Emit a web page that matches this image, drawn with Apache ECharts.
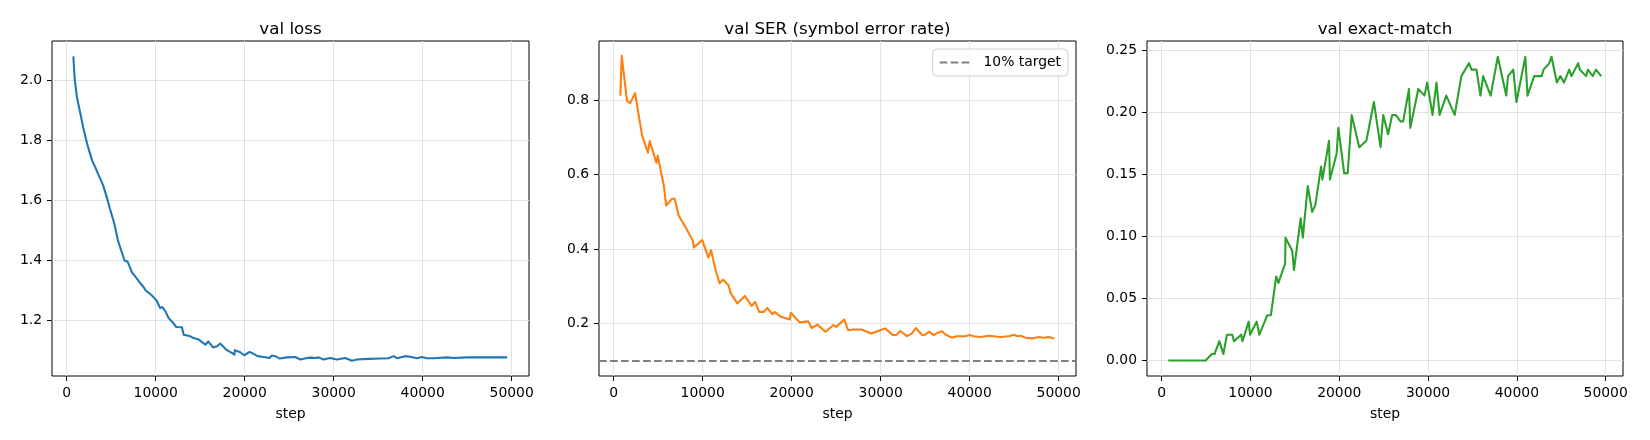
<!DOCTYPE html>
<html>
<head>
<meta charset="utf-8">
<script src="https://cdn.jsdelivr.net/npm/echarts@6/dist/echarts.min.js"></script>
<style>
html,body{margin:0;padding:0;background:#fff;}
#chart{width:1650px;height:440px;}
</style>
</head>
<body>
<div id="chart"></div>
<script>
// ---- data ----
var xTicks = [0, 10000, 20000, 30000, 40000, 50000];
var lossTicks = [1.2, 1.4, 1.6, 1.8, 2.0];
var serTicks = [0.2, 0.4, 0.6, 0.8];
var emTicks = [0.00, 0.05, 0.10, 0.15, 0.20, 0.25];
var targetLevel = [0.1];

var lossSteps = [750,900,1150,1550,1850,2300,2850,3200,3600,4100,4550,4850,5000,5350,5750,6050,6500,6850,7350,7700,8200,8650,8900,9050,9500,9850,10100,10500,10750,11100,11450,11900,12300,12950,13150,13900,14250,14850,15600,15900,16450,16900,17250,18000,18550,18850,18900,19500,19950,20550,20800,21450,22150,22800,23050,23450,23950,24750,25700,26250,27000,27400,27950,28300,28850,29600,30350,31300,32050,32600,33950,35250,36150,36750,37100,38050,38600,39350,39900,40500,41250,42750,43500,45000,46500,48000,49500];
var lossValues = [2.079,2.003,1.943,1.887,1.843,1.788,1.733,1.711,1.683,1.650,1.606,1.573,1.573,1.523,1.468,1.440,1.400,1.396,1.360,1.347,1.327,1.311,1.300,1.306,1.286,1.275,1.267,1.242,1.245,1.231,1.209,1.195,1.179,1.178,1.153,1.148,1.142,1.137,1.120,1.131,1.111,1.115,1.124,1.102,1.093,1.087,1.102,1.095,1.085,1.096,1.093,1.082,1.079,1.076,1.084,1.082,1.074,1.078,1.079,1.071,1.076,1.077,1.076,1.078,1.071,1.076,1.071,1.076,1.067,1.071,1.073,1.074,1.075,1.082,1.075,1.082,1.080,1.075,1.079,1.075,1.075,1.078,1.076,1.078,1.078,1.078,1.078];

var serSteps = [750,900,1500,1850,2400,3200,3850,4050,4800,4950,5650,5900,6550,6850,7300,8150,8900,9000,9950,10650,10950,11450,11900,12300,12900,13150,13900,14750,15500,15900,16350,16850,17250,17850,18100,18800,19800,19900,20900,21850,22250,22900,23800,24700,25000,25900,26350,26950,27850,28250,28900,29500,29950,30500,31350,31800,32200,32950,33500,33950,34650,35000,35450,35950,36300,36900,37250,38000,38550,39500,40000,40450,41200,42150,42700,43450,44400,44950,45350,45750,46250,47000,47750,48300,48900,49500];
var serValues = [0.812,0.919,0.798,0.792,0.819,0.704,0.659,0.690,0.632,0.651,0.568,0.517,0.535,0.535,0.490,0.456,0.422,0.404,0.424,0.377,0.397,0.343,0.308,0.318,0.303,0.281,0.254,0.274,0.247,0.258,0.231,0.231,0.242,0.225,0.231,0.218,0.211,0.229,0.203,0.206,0.188,0.197,0.178,0.196,0.191,0.211,0.182,0.184,0.184,0.180,0.173,0.178,0.182,0.187,0.169,0.170,0.180,0.166,0.173,0.188,0.169,0.170,0.178,0.169,0.174,0.179,0.171,0.162,0.166,0.166,0.169,0.166,0.164,0.167,0.166,0.164,0.166,0.170,0.166,0.167,0.162,0.160,0.164,0.162,0.164,0.160];

var emSteps = [750,4950,5650,5950,6500,6950,7350,7950,8150,8950,9100,9800,9950,10700,11000,11600,11900,12300,12900,13150,13900,13950,14700,14900,15650,15900,16450,16950,17300,17950,18100,18850,18950,19700,19900,20550,20950,21400,22250,23050,23900,24650,24950,25500,25950,26350,26900,27200,27850,28000,28900,29600,29900,30500,30950,31300,32050,33000,33750,33950,34600,34900,35450,35900,36200,37050,37850,38800,39000,39600,39950,40950,41200,41950,42800,43000,43650,43900,44500,44900,45300,45900,46150,46900,47100,47800,48000,48550,48900,49500];
var emValues = [0,0,0.0052,0.0052,0.0156,0.0052,0.0208,0.0208,0.0156,0.0208,0.0156,0.0313,0.0208,0.0313,0.0208,0.0313,0.0365,0.0365,0.0677,0.0625,0.0781,0.0990,0.0885,0.0729,0.1146,0.0990,0.1406,0.1198,0.1250,0.1563,0.1458,0.1771,0.1458,0.1667,0.1875,0.1510,0.1510,0.1979,0.1719,0.1771,0.2083,0.1719,0.1979,0.1823,0.1979,0.1979,0.1927,0.1927,0.2188,0.1875,0.2188,0.2135,0.2240,0.1979,0.2240,0.1979,0.2135,0.1979,0.2292,0.2292,0.2396,0.2344,0.2344,0.2135,0.2292,0.2135,0.2448,0.2135,0.2292,0.2344,0.2083,0.2448,0.2135,0.2292,0.2292,0.2344,0.2396,0.2448,0.2240,0.2292,0.2240,0.2344,0.2292,0.2396,0.2344,0.2292,0.2344,0.2292,0.2344,0.2292];

// ---- chart ----
var FONT = 'DejaVu Sans';
var TICK_FS = 13.9;
var LW = 2.08;
var DASH = [7.7, 3.3];

function pairs(xs, ys) {
  var out = [];
  for (var i = 0; i < xs.length; i++) out.push([xs[i], ys[i]]);
  return out;
}

var grids = [
  {left: 52, top: 41, width: 477, height: 335},
  {left: 599, top: 41, width: 477, height: 335},
  {left: 1147, top: 41, width: 476, height: 335}
];
grids.forEach(function (g) {
  g.show = true; g.borderColor = '#000'; g.borderWidth = 1; g.containLabel = false;
});

function xAxisFor(i) {
  return {
    type: 'value', gridIndex: i, min: -1650, max: 51950, position: 'bottom',
    name: 'step', nameLocation: 'middle', nameGap: 31,
    nameTextStyle: {fontFamily: FONT, fontSize: TICK_FS, color: '#000'},
    axisLine: {show: false, onZero: false},
    axisTick: {show: true, length: 5, inside: false, customValues: xTicks, lineStyle: {color: '#000', width: 1}},
    axisLabel: {show: true, margin: 10, customValues: xTicks, fontFamily: FONT, fontSize: TICK_FS, color: '#000',
      formatter: function (v) { return String(Math.round(v)); }},
    splitLine: {show: true, lineStyle: {color: '#e2e2e2', width: 1}}
  };
}
function yAxisFor(i, min, max, ticks, dec) {
  return {
    type: 'value', gridIndex: i, min: min, max: max, position: 'left',
    axisLine: {show: false, onZero: false},
    axisTick: {show: true, length: 5, inside: false, customValues: ticks, lineStyle: {color: '#000', width: 1}},
    axisLabel: {show: true, margin: 10, customValues: ticks, fontFamily: FONT, fontSize: TICK_FS, color: '#000',
      formatter: function (v) { return v.toFixed(dec); }},
    splitLine: {show: true, lineStyle: {color: '#e2e2e2', width: 1}}
  };
}

function titleFor(text, g) {
  return {
    text: text, left: g.left + g.width / 2, top: 21, textAlign: 'center', padding: 0,
    textStyle: {fontFamily: FONT, fontSize: 16.7, fontWeight: 'normal', color: '#000'}
  };
}

var option = {
  animation: false,
  backgroundColor: '#fff',
  title: [
    titleFor('val loss', grids[0]),
    titleFor('val SER (symbol error rate)', grids[1]),
    titleFor('val exact-match', grids[2])
  ],
  grid: grids,
  xAxis: [xAxisFor(0), xAxisFor(1), xAxisFor(2)],
  yAxis: [
    yAxisFor(0, 1.016, 2.130, lossTicks, 1),
    yAxisFor(1, 0.059, 0.959, serTicks, 1),
    yAxisFor(2, -0.0125, 0.2575, emTicks, 2)
  ],
  legend: {
    data: [{name: '10% target', icon: 'path://M0,0h7.7v2.1h-7.7z M11,0h7.7v2.1h-7.7z M22,0h7.7v2.1h-7.7z'}],
    right: 582, top: 49, orient: 'horizontal',
    itemWidth: 30, itemHeight: 2.1, selectedMode: false,
    padding: [6, 7, 6, 7],
    borderColor: '#d0d0d0', borderWidth: 1, borderRadius: 4,
    backgroundColor: 'rgba(255,255,255,0.8)',
    itemStyle: {color: '#808080', borderWidth: 0},
    textStyle: {fontFamily: FONT, fontSize: TICK_FS, color: '#000', padding: [0, 0, 0, 9], lineHeight: 15}
  },
  series: [
    {
      name: 'val loss', type: 'line', xAxisIndex: 0, yAxisIndex: 0,
      data: pairs(lossSteps, lossValues), symbol: 'none', showSymbol: false,
      lineStyle: {color: '#1f77b4', width: LW, join: 'round', cap: 'butt'}, itemStyle: {color: '#1f77b4'}
    },
    {
      name: 'val SER', type: 'line', xAxisIndex: 1, yAxisIndex: 1,
      data: pairs(serSteps, serValues), symbol: 'none', showSymbol: false,
      lineStyle: {color: '#ff7f0e', width: LW, join: 'round', cap: 'butt'}, itemStyle: {color: '#ff7f0e'}
    },
    {
      name: '10% target', type: 'line', xAxisIndex: 1, yAxisIndex: 1,
      data: [], symbol: 'none', showSymbol: false,
      lineStyle: {color: '#808080', width: LW, type: DASH}, itemStyle: {color: '#808080'},
      markLine: {
        silent: true, symbol: ['none', 'none'], label: {show: false}, animation: false,
        lineStyle: {color: '#808080', width: LW, type: DASH},
        data: [{yAxis: targetLevel[0]}]
      }
    },
    {
      name: 'val exact-match', type: 'line', xAxisIndex: 2, yAxisIndex: 2,
      data: pairs(emSteps, emValues), symbol: 'none', showSymbol: false,
      lineStyle: {color: '#2ca02c', width: LW, join: 'round', cap: 'butt'}, itemStyle: {color: '#2ca02c'}
    }
  ]
};

var chart = echarts.init(document.getElementById('chart'), null, {renderer: 'canvas'});
chart.setOption(option);
</script>
</body>
</html>
